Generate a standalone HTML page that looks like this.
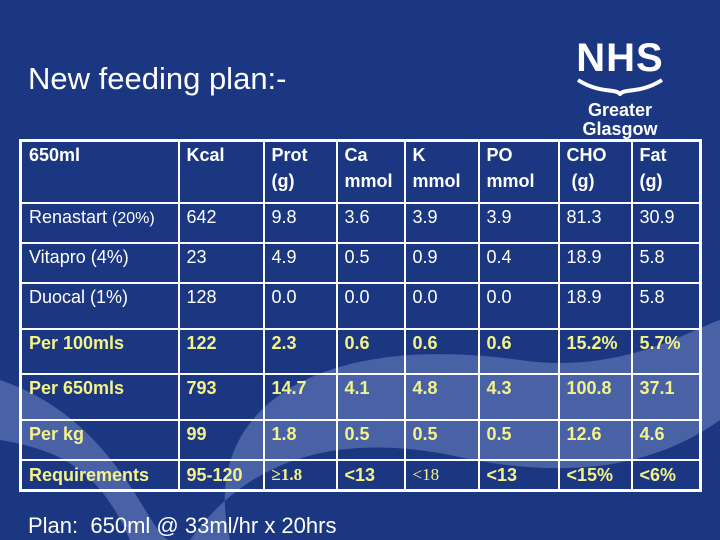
<!DOCTYPE html>
<html><head><meta charset="utf-8"><style>
body{margin:0;width:720px;height:540px;overflow:hidden;background:#1b3782;font-family:"Liberation Sans",sans-serif;position:relative}
.bg{position:absolute;left:0;top:0}
h1{position:absolute;left:28px;top:61px;margin:0;font-weight:normal;font-size:31px;color:#fff}
.logo{position:absolute;left:560px;top:38px;width:120px;text-align:center;color:#fff}
table{position:absolute;left:19px;top:139px;border-collapse:collapse;border:3px solid #fff}
td{border:2px solid #fff;padding:0 0 0 7px;vertical-align:top;font-size:18px;color:#fff;line-height:26px}
tr.y td{color:#f4f28a;font-weight:bold}
tr.h td{font-weight:bold}
.plan{position:absolute;left:28px;top:513px;font-size:22px;color:#fff}
</style></head><body>
<svg class="bg" width="720" height="540">
<path d="M0 380 C120 420 150 540 170 540 L230 540 C200 420 300 330 520 360 C620 375 690 330 720 320 L720 420 C650 470 560 480 450 455 C320 430 240 470 190 540 L130 540 C100 470 60 450 0 440 Z" fill="#5872b0" opacity="0.75"/>
</svg>
<h1>New feeding plan:-</h1>
<div class="logo">
<div style="font-weight:bold;font-size:40px;line-height:40px;letter-spacing:1px">NHS</div>
<svg width="100" height="18"><path d="M8 2 C30 16 45 10 50 16 C55 10 70 16 92 2" stroke="#fff" stroke-width="4" fill="none"/></svg>
<div style="font-size:18px;line-height:19px;font-weight:bold">Greater<br>Glasgow</div>
</div>
<table>
<colgroup><col style="width:158px"><col style="width:85px"><col style="width:73px"><col style="width:68px"><col style="width:74px"><col style="width:80px"><col style="width:73px"><col style="width:69px"></colgroup>
<tr class="h" style="height:62px"><td>650ml</td><td>Kcal</td><td>Prot<br>(g)</td><td>Ca<br>mmol</td><td>K<br>mmol</td><td>PO<br>mmol</td><td>CHO<br>&nbsp;(g)</td><td>Fat<br>(g)</td></tr>
<tr style="height:40px"><td>Renastart <span style="font-size:16px">(20%)</span></td><td>642</td><td>9.8</td><td>3.6</td><td>3.9</td><td>3.9</td><td>81.3</td><td>30.9</td></tr>
<tr style="height:40px"><td>Vitapro (4%)</td><td>23</td><td>4.9</td><td>0.5</td><td>0.9</td><td>0.4</td><td>18.9</td><td>5.8</td></tr>
<tr style="height:46px"><td>Duocal (1%)</td><td>128</td><td>0.0</td><td>0.0</td><td>0.0</td><td>0.0</td><td>18.9</td><td>5.8</td></tr>
<tr class="y" style="height:45px"><td>Per 100mls</td><td>122</td><td>2.3</td><td>0.6</td><td>0.6</td><td>0.6</td><td>15.2%</td><td>5.7%</td></tr>
<tr class="y" style="height:46px"><td>Per 650mls</td><td>793</td><td>14.7</td><td>4.1</td><td>4.8</td><td>4.3</td><td>100.8</td><td>37.1</td></tr>
<tr class="y" style="height:40px"><td>Per kg</td><td>99</td><td>1.8</td><td>0.5</td><td>0.5</td><td>0.5</td><td>12.6</td><td>4.6</td></tr>
<tr class="y" style="height:31px"><td style="line-height:28px">Requirements</td><td style="line-height:28px">95-120</td><td style="line-height:28px;font-family:'Liberation Serif',serif;font-size:17px">≥1.8</td><td style="line-height:28px">&lt;13</td><td style="line-height:28px;font-family:'Liberation Serif',serif;font-weight:normal;font-size:17px">&lt;18</td><td style="line-height:28px">&lt;13</td><td style="line-height:28px">&lt;15%</td><td style="line-height:28px">&lt;6%</td></tr>
</table>
<div class="plan">Plan:&nbsp; 650ml @ 33ml/hr x 20hrs</div>
</body></html>
